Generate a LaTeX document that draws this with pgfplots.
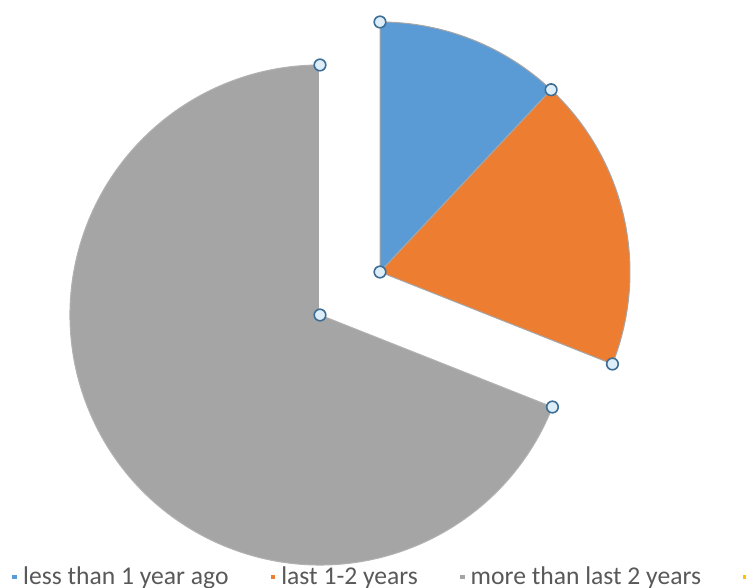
\documentclass[border=0pt]{standalone}
\usepackage{fontspec}
\setmainfont{Carlito}
\usepackage{pgfplots}
\pgfplotsset{compat=1.18}
\definecolor{cBlue}{HTML}{5B9BD5}
\definecolor{cOrange}{HTML}{ED7D31}
\definecolor{cGray}{HTML}{A5A5A5}
\definecolor{cYellow}{HTML}{FFC000}
\definecolor{cText}{HTML}{595959}
\definecolor{hFill}{HTML}{DDEEF8}
\definecolor{hDraw}{HTML}{3E6E96}
% shares (percent)
\def\vA{12.0}% less than 1 year ago
\def\vB{19.0}% last 1-2 years
\def\vC{69.0}% more than last 2 years
\begin{document}
\begin{tikzpicture}
\pgfmathsetmacro\aA{90-3.6*\vA}
\pgfmathsetmacro\aB{\aA-3.6*\vB}
\pgfmathsetmacro\aC{\aB-3.6*\vC}
\begin{axis}[at={(0,0)}, anchor=south west, scale only axis,
  width=373pt, height=294pt,
  xmin=-1.28, xmax=1.704, ymin=-1.092, ymax=1.26,
  hide axis, clip=false,
  legend columns=4,
  legend style={draw=none, fill=none, at={(axis cs:-1.232,-1.048)}, anchor=west,
    font=\fontsize{12.8}{15}\selectfont, text=cText, inner sep=0pt,
    column sep=1pt,
    /tikz/every even column/.append style={column sep=19pt}},
  legend image code/.code={\fill[#1] (0pt,-1.2pt) rectangle (2.4pt,1.2pt);},
]
\addlegendimage{fill=cBlue, draw=none}
\addlegendentry{less than 1 year ago}
\addlegendimage{fill=cOrange, draw=none}
\addlegendentry{last 1-2 years}
\addlegendimage{fill=cGray, draw=none}
\addlegendentry{more than last 2 years}
\addlegendimage{fill=cYellow, draw=none}
\addlegendentry{}

% gray slice
\filldraw[fill=cGray, draw=gray!60, line width=0.5pt]
  (axis cs:0,0) -- ++(\aB:125pt) arc[start angle=\aB, end angle=\aC, radius=125pt] -- cycle;
\draw[white, line width=0.8pt] (axis cs:0,0) -- ++(90:124pt);
% blue slice (exploded)
\filldraw[fill=cBlue, draw=gray!70, line width=0.5pt]
  (axis cs:0.24,0.172) -- ++(90:125pt) arc[start angle=90, end angle=\aA, radius=125pt] -- cycle;
% orange slice (exploded)
\filldraw[fill=cOrange, draw=gray!70, line width=0.5pt]
  (axis cs:0.24,0.172) -- ++(\aA:125pt) arc[start angle=\aA, end angle=\aB, radius=125pt] -- cycle;

\addplot[forget plot, only marks, mark=*, mark size=2.9pt,
  mark options={fill=hFill, draw=hDraw, line width=0.8pt}]
  coordinates {(0,0) (0,1) (0.9298,-0.3681)
               (0.24,0.172) (0.24,1.172) (0.9245,0.901) (1.1698,-0.1961)};
\end{axis}
\pgfresetboundingbox
\useasboundingbox (0,0) rectangle (373pt,294pt);
\end{tikzpicture}
\end{document}
